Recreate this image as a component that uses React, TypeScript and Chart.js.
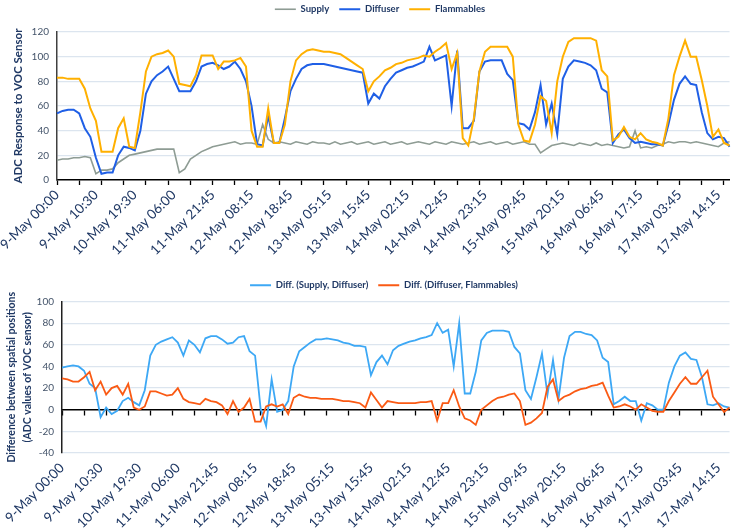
import { useEffect, useRef } from "react";
import { Chart, registerables } from "chart.js";

Chart.register(...registerables);
Chart.defaults.font.family = "Lato, 'Open Sans', sans-serif";

// one point every 1.5 h, a label every 7 points, a tick mark every 4
const tickLabels = [
  "9-May 00:00", "9-May 10:30", "10-May 19:30", "11-May 06:00", "11-May 21:45",
  "12-May 08:15", "12-May 18:45", "13-May 05:15", "13-May 15:45", "14-May 02:15",
  "14-May 12:45", "14-May 23:15", "15-May 09:45", "15-May 20:15", "16-May 06:45",
  "16-May 17:15", "17-May 03:45", "17-May 14:15",
];
const pointsPerLabel = 7;
const pointsPerTick = 4;

const supply = [
  16, 17, 17, 18, 18, 19, 18, 5, 8, 8,
  9, 14, 17, 20, 21, 22, 23, 24, 25, 25,
  25, 25, 6, 9, 17, 20, 23, 25, 27, 28,
  29, 30, 31, 29, 30, 30, 29, 45, 33, 30,
  31, 30, 29, 31, 30, 29, 31, 30, 30, 29,
  31, 29, 30, 31, 29, 30, 31, 29, 30, 31,
  29, 30, 31, 29, 30, 31, 30, 29, 31, 30,
  29, 31, 30, 29, 30, 31, 29, 30, 31, 29,
  30, 31, 29, 30, 31, 29, 29, 22, 25, 28,
  29, 30, 29, 28, 30, 29, 28, 30, 28, 29,
  28, 27, 26, 27, 40, 26, 27, 26, 28, 29,
  31, 30, 31, 31, 30, 31, 30, 29, 28, 27,
  30, 31,
];
const diffuser = [
  54, 56, 57, 57, 54, 42, 35, 18, 5, 6,
  6, 20, 27, 26, 24, 40, 70, 80, 85, 88,
  92, 82, 72, 72, 72, 80, 92, 94, 95, 93,
  90, 92, 96, 90, 80, 60, 29, 28, 52, 30,
  30, 50, 72, 82, 90, 93, 94, 94, 94, 93,
  92, 91, 90, 89, 88, 87, 62, 70, 66, 76,
  82, 87, 89, 91, 92, 94, 96, 108, 97, 99,
  101, 60, 105, 42, 42, 48, 88, 96, 97, 97,
  97, 86, 81, 46, 45, 41, 55, 77, 45, 62,
  37, 82, 92, 97, 96, 95, 93, 89, 74, 71,
  30, 37, 41, 34, 30, 31, 30, 29, 29, 28,
  45, 65, 78, 84, 78, 77, 55, 38, 33, 35,
  34, 27,
];
const flammables = [
  83, 83, 82, 82, 82, 74, 58, 48, 23, 23,
  23, 42, 50, 27, 26, 55, 88, 100, 102, 103,
  105, 100, 78, 77, 76, 85, 101, 101, 101, 90,
  96, 96, 97, 99, 92, 40, 27, 27, 58, 30,
  30, 45, 80, 97, 102, 105, 106, 105, 104, 104,
  103, 102, 99, 96, 93, 90, 72, 80, 84, 89,
  91, 94, 95, 97, 98, 99, 101, 100, 104, 107,
  111, 90, 103, 34, 28, 50, 88, 104, 108, 108,
  108, 108, 100, 45, 32, 31, 45, 68, 64, 38,
  80, 100, 112, 115, 115, 115, 115, 113, 89, 84,
  32, 35, 43, 35, 33, 38, 33, 31, 30, 28,
  50, 85, 100, 113, 100, 100, 81, 60, 35, 41,
  30, 28,
];

const diffSupplyDiffuser = [
  39, 40, 41, 40, 36, 24, 20, -7, 2, -4,
  -1, 8, 11, 7, 4, 18, 50, 60, 63, 65,
  67, 62, 50, 64, 60, 53, 66, 68, 68, 65,
  61, 62, 67, 68, 54, 50, 1, -15, 28, -2,
  0, 8, 40, 54, 58, 62, 65, 65, 66, 65,
  64, 62, 61, 59, 59, 58, 32, 44, 50, 42,
  55, 59, 61, 63, 64, 66, 67, 69, 80, 71,
  74, 40, 80, 15, 15, 35, 64, 71, 73, 73,
  73, 72, 58, 52, 18, 10, 30, 52, 14, 46,
  10, 48, 68, 72, 72, 70, 69, 64, 48, 44,
  5, 8, 12, 8, 8, -10, 6, 4, 0, 0,
  25, 40, 50, 53, 47, 46, 30, 5, 4, 6,
  3, 2,
];
const diffDiffuserFlammables = [
  29, 28, 26, 26, 30, 35, 18, 26, 14, 20,
  22, 14, 24, 2, 0, 3, 17, 17, 15, 13,
  14, 20, 10, 7, 6, 5, 10, 8, 7, 4,
  -4, 8, -2, 2, 10, -11, -11, 3, 5, 3,
  5, -4, 11, 14, 12, 11, 11, 10, 10, 10,
  9, 8, 8, 7, 6, 2, 16, 9, 2, 8,
  7, 6, 6, 6, 6, 7, 7, 8, -10, 6,
  6, 18, 3, -8, -10, -14, 0, 4, 8, 11,
  12, 14, 15, 8, -14, -12, -8, -3, 21, 28,
  8, 12, 14, 17, 19, 20, 22, 23, 25, 13,
  2, 3, 5, 3, 0, 5, 2, -1, -2, -2,
  8, 16, 24, 30, 24, 24, 30, 36, 12, 5,
  -2, 2,
];

const categories = supply.map((_, i) =>
  i % pointsPerLabel === 0 ? tickLabels[i / pointsPerLabel] ?? "" : ""
);

const navy = "#1F3864";
const tickGrey = "#44546A";
const gridColor = "#DCE5EF";
const clear = "rgba(0,0,0,0)";

// extra room under the legend, and a small sideways nudge of its row
const legendTweak = (gap: number, shift: number) => ({
  id: "legendTweak",
  beforeInit(chart: any) {
    if (!chart.legend) return;
    const fit = chart.legend.fit;
    chart.legend.fit = function () {
      fit.bind(chart.legend)();
      this.height += gap;
    };
  },
  afterLayout(chart: any) {
    if (!chart.legend) return;
    chart.legend.left += shift;
    chart.legend.right += shift;
  },
});

const legendOptions = {
  display: true,
  position: "top" as const,
  labels: {
    usePointStyle: true,
    pointStyle: "line",
    pointStyleWidth: 21,
    padding: 10,
    color: navy,
    font: { size: 9.5, weight: "bold" as const },
    sort: (a: any, b: any) => a.datasetIndex - b.datasetIndex,
  },
};

const xLabelTicks = {
  autoSkip: false,
  maxRotation: 45,
  minRotation: 45,
  color: navy,
  font: { size: 13.5 },
  padding: 2,
};

const tickMark = (c: any) => (c.index % pointsPerTick === 0 ? "#000" : clear);

function SensorChart() {
  const chartRef = useRef<HTMLCanvasElement>(null);

  useEffect(() => {
    if (!chartRef.current) return;
    const chart = new Chart(chartRef.current, {
      type: "line",
      data: {
        labels: categories,
        datasets: [
          { label: "Supply", data: supply, borderColor: "#8E9C94", backgroundColor: "#8E9C94", borderWidth: 1.6, order: 3 },
          { label: "Diffuser", data: diffuser, borderColor: "#1F5FE6", backgroundColor: "#1F5FE6", borderWidth: 2, order: 2 },
          { label: "Flammables", data: flammables, borderColor: "#FFB000", backgroundColor: "#FFB000", borderWidth: 2, order: 1 },
        ],
      },
      options: {
        animation: false,
        responsive: true,
        maintainAspectRatio: false,
        elements: { point: { radius: 0 }, line: { tension: 0 } },
        layout: { padding: { top: -5.5, right: 5, left: 0, bottom: 0 } },
        plugins: { legend: legendOptions as any, tooltip: { enabled: false } },
        scales: {
          x: {
            grid: { drawOnChartArea: false, drawTicks: true, tickLength: 5, tickWidth: 1.3, tickColor: tickMark },
            border: { color: "#000", width: 1.5 },
            ticks: xLabelTicks,
            afterFit: (s: any) => {
              s.height = 85;
            },
          },
          y: {
            min: 0,
            max: 120,
            ticks: { stepSize: 20, color: tickGrey, font: { size: 10 }, padding: 8 },
            grid: { color: (c: any) => (c.tick && c.tick.value === 0 ? clear : gridColor), drawTicks: false, lineWidth: 1.2 },
            border: { color: "#404040", width: 1.5 },
            title: {
              display: true,
              text: "ADC Response to VOC Sensor",
              color: navy,
              font: { size: 11.5, weight: "bold" },
              padding: { top: 11, bottom: 0 },
            },
            afterFit: (s: any) => {
              s.width = 57;
            },
          },
        },
      },
      plugins: [legendTweak(8, 11)],
    });
    return () => chart.destroy();
  }, []);

  return (
    <div style={{ position: "relative", width: 743, height: 265 }}>
      <canvas ref={chartRef}></canvas>
    </div>
  );
}

function DifferenceChart() {
  const chartRef = useRef<HTMLCanvasElement>(null);

  useEffect(() => {
    if (!chartRef.current) return;
    const chart = new Chart(chartRef.current, {
      type: "line",
      data: {
        labels: categories,
        datasets: [
          { label: "Diff. (Supply, Diffuser)", data: diffSupplyDiffuser, borderColor: "#3DA8F5", backgroundColor: "#3DA8F5", borderWidth: 1.8, order: 2 },
          { label: "Diff. (Diffuser, Flammables)", data: diffDiffuserFlammables, borderColor: "#FA5A14", backgroundColor: "#FA5A14", borderWidth: 1.8, order: 1 },
        ],
      },
      options: {
        animation: false,
        responsive: true,
        maintainAspectRatio: false,
        elements: { point: { radius: 0 }, line: { tension: 0 } },
        layout: { padding: { top: 5.5, right: 5, left: 0, bottom: 0 } },
        plugins: { legend: legendOptions as any, tooltip: { enabled: false } },
        scales: {
          x: {
            grid: { drawOnChartArea: false, drawTicks: true, tickLength: 5, tickColor: clear },
            border: { display: false },
            ticks: xLabelTicks,
            afterFit: (s: any) => {
              s.height = 76;
            },
          },
          x2: {
            type: "category",
            position: { y: 0 },
            ticks: { display: false },
            grid: { drawOnChartArea: false, drawTicks: true, tickLength: 5, tickWidth: 1.3, tickColor: tickMark },
            border: { color: "#000", width: 1.5 },
          },
          y: {
            min: -40,
            max: 100,
            ticks: { stepSize: 20, color: tickGrey, font: { size: 10 }, padding: 8 },
            grid: { color: (c: any) => (c.tick && c.tick.value === 0 ? clear : gridColor), drawTicks: false, lineWidth: 1.2 },
            border: { color: "#202020", width: 1.5 },
            title: {
              display: true,
              text: ["Difference between spatial positions", "(ADC values of VOC sensor)"],
              color: navy,
              font: { size: 10.5, weight: "bold", lineHeight: 1.5 },
              padding: { top: 4, bottom: 0 },
            },
            afterFit: (s: any) => {
              s.width = 62;
            },
          },
        },
      },
      plugins: [legendTweak(1.5, 15)],
    });
    return () => chart.destroy();
  }, []);

  return (
    <div style={{ position: "relative", width: 743, height: 264 }}>
      <canvas ref={chartRef}></canvas>
    </div>
  );
}

export default function App() {
  return (
    <div style={{ position: "absolute", left: 0, top: 0, width: 743, height: 529, background: "#fff" }}>
      <SensorChart />
      <DifferenceChart />
    </div>
  );
}
